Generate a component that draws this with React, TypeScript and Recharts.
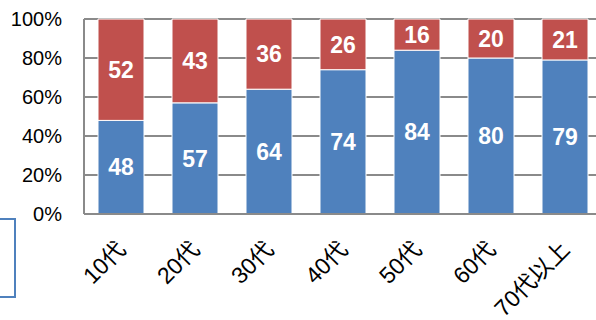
import React from 'react';
import { BarChart, Bar, XAxis, YAxis, CartesianGrid, LabelList } from 'recharts';

const ageGroups = ['10代', '20代', '30代', '40代', '50代', '60代', '70代以上'];
const lowerShare = [48, 57, 64, 74, 84, 80, 79];
const upperShare = [52, 43, 36, 26, 16, 20, 21];
const percentTicks = [0, 20, 40, 60, 80, 100];

const BLUE = '#4F81BD';
const RED = '#C0504D';
const AXIS_GRAY = '#8a8a8a';
const FONT = "'Liberation Sans', Arial, 'Noto Sans CJK JP', sans-serif";

const data = ageGroups.map((name, i) => ({
  name,
  lower: lowerShare[i],
  upper: upperShare[i],
}));

// rotated category label, anchored at its end just below the bar
const AgeTick = ({ x, y, payload }: any) => {
  const tx = x + 6;
  const ty = y + 37;
  return (
    <text
      x={tx}
      y={ty}
      transform={`rotate(-45, ${tx}, ${ty})`}
      textAnchor="end"
      fontSize={23}
      fontFamily={FONT}
      fill="#000"
    >
      {payload.value}
    </text>
  );
};

const labelStyle = {
  fill: '#fff',
  fontSize: 23,
  fontWeight: 700,
  fontFamily: FONT,
};

export default function App() {
  return (
    <div
      style={{
        position: 'absolute',
        left: 0,
        top: 0,
        width: 596,
        height: 320,
        overflow: 'hidden',
        background: '#fff',
      }}
    >
      <BarChart
        width={610}
        height={320}
        data={data}
        margin={{ top: 19, right: 8, left: 0, bottom: 0 }}
        barSize={46}
      >
        <CartesianGrid
          vertical={false}
          stroke={AXIS_GRAY}
          strokeWidth={2}
        />
        <XAxis
          dataKey="name"
          height={106}
          tickLine={false}
          tickSize={0}
          tickMargin={0}
          interval={0}
          axisLine={{ stroke: AXIS_GRAY, strokeWidth: 2 }}
          tick={<AgeTick />}
        />
        <YAxis
          width={84}
          domain={[0, 100]}
          ticks={percentTicks}
          tickFormatter={(v) => `${v}%`}
          tickLine={false}
          tickSize={0}
          tickMargin={22}
          axisLine={{ stroke: AXIS_GRAY, strokeWidth: 2 }}
          tick={{ fontSize: 20, fill: '#000', fontFamily: FONT }}
        />
        <Bar dataKey="lower" stackId="a" fill={BLUE} stroke="#fff" strokeWidth={1} isAnimationActive={false}>
          <LabelList dataKey="lower" position="center" style={labelStyle} />
        </Bar>
        <Bar dataKey="upper" stackId="a" fill={RED} stroke="#fff" strokeWidth={1} isAnimationActive={false}>
          <LabelList dataKey="upper" position="center" style={labelStyle} />
        </Bar>
      </BarChart>
      <div
        style={{
          position: 'absolute',
          left: -10,
          top: 218,
          width: 22,
          height: 76,
          border: `2px solid ${BLUE}`,
          background: '#fff',
        }}
      />
    </div>
  );
}
